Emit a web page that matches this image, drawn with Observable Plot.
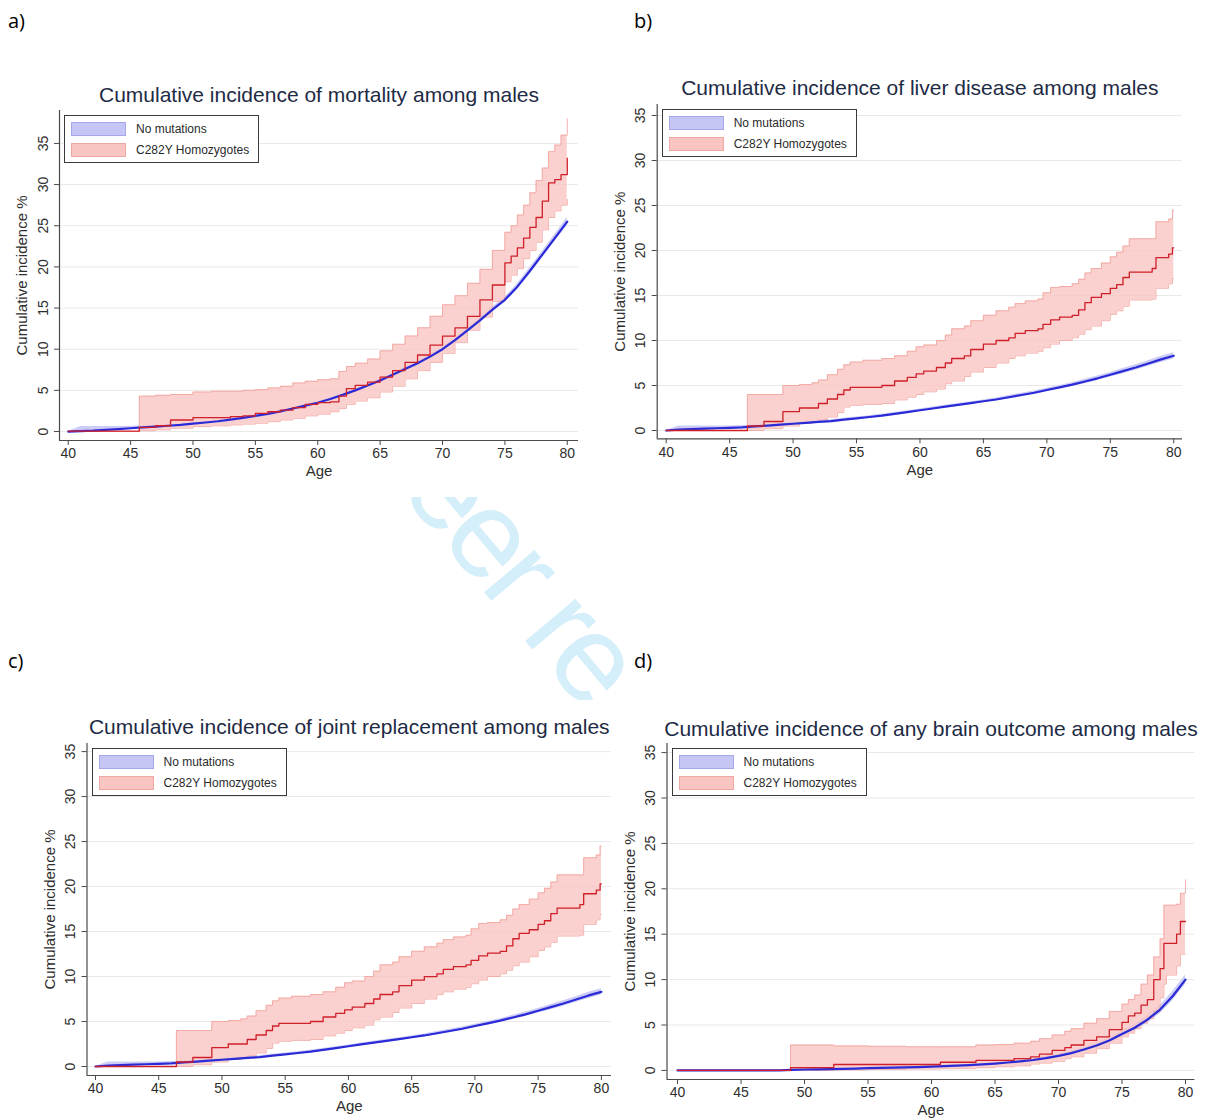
<!DOCTYPE html>
<html>
<head>
<meta charset="utf-8">
<script src="https://cdn.jsdelivr.net/npm/d3@7"></script>
<script src="https://cdn.jsdelivr.net/npm/@observablehq/plot@0.6"></script>
<style>
  html, body { margin: 0; padding: 0; background: #fff; }
  body { width: 1207px; height: 1118px; position: relative; overflow: hidden; font-family: 'Liberation Sans', Arial, sans-serif; }
  .panel { position: absolute; }
  .panel svg { overflow: visible; }
  .plabel { position: absolute; font-family: 'Open Sans', 'Liberation Sans', sans-serif; font-size: 20px; color: #000; line-height: 1; }
  .legend { position: absolute; box-sizing: border-box; width: 195px; height: 48px; border: 1px solid #3a3a3a; background: #fff; font-family: 'Liberation Sans', Arial, sans-serif; font-size: 12px; color: #2a2a2a; }
  .legend .sw { position: absolute; left: 6px; width: 55px; height: 14px; box-sizing: border-box; }
  .legend .lt { position: absolute; left: 71px; line-height: 14px; white-space: nowrap; }
  #wm { position: absolute; left: 0; top: 0; }
</style>
</head>
<body>
<script>
// ---------- shared axis values ----------
const xTickValues = [40, 45, 50, 55, 60, 65, 70, 75, 80];
const yTickValues = [0, 5, 10, 15, 20, 25, 30, 35];
const seriesNames = ["No mutations", "C282Y Homozygotes"];
const panelLetters = ["a)", "b)", "c)", "d)"];
const panelTitles = [
  "Cumulative incidence of mortality among males",
  "Cumulative incidence of liver disease among males",
  "Cumulative incidence of joint replacement among males",
  "Cumulative incidence of any brain outcome among males"
];
const yAxisTitle = "Cumulative incidence %";
const xAxisTitle = "Age";

// ages for the smooth "No mutations" curves
const noMutAge = [40,41,42,43,44,45,46,47,48,49,50,51,52,53,54,55,56,57,58,59,60,61,62,63,64,65,66,67,68,69,70,71,72,73,74,75,76,77,78,79,80];

// ---------- a) mortality ----------
const mortNoMutEst = [0,0.05,0.1,0.2,0.3,0.4,0.5,0.6,0.7,0.8,0.95,1.1,1.25,1.45,1.65,1.9,2.15,2.45,2.8,3.15,3.5,3.95,4.45,5.0,5.6,6.2,6.9,7.6,8.3,9.1,10.0,11.1,12.3,13.5,14.8,16.0,17.6,19.5,21.5,23.5,25.5];
const mortNoMutLo  = [0,0,0.02,0.1,0.2,0.3,0.4,0.5,0.6,0.7,0.85,1.0,1.15,1.35,1.55,1.8,2.05,2.35,2.7,3.0,3.35,3.8,4.3,4.85,5.4,6.0,6.7,7.4,8.1,8.85,9.75,10.85,12.0,13.2,14.5,15.7,17.25,19.1,21.1,23.05,25.0];
const mortNoMutHi  = [0,0.6,0.6,0.6,0.6,0.65,0.7,0.75,0.8,0.9,1.05,1.2,1.35,1.55,1.75,2.0,2.25,2.55,2.9,3.3,3.65,4.1,4.6,5.15,5.8,6.4,7.1,7.8,8.5,9.35,10.25,11.35,12.6,13.8,15.1,16.3,17.95,19.9,21.9,23.95,26.0];
const mortC282Age = [40,45.7,47.0,48.2,50.0,51.5,53.0,54.0,55.0,56.0,57.0,58.0,59.0,60.0,61.0,61.7,62.3,63.0,64.0,65.0,66.0,67.0,68.0,69.0,70.0,71.0,72.0,73.0,74.0,75.0,75.5,76.0,76.5,77.0,77.5,78.0,78.5,79.0,79.5,80.0];
const mortC282Est = [0.05,0.5,0.7,1.4,1.7,1.7,1.8,1.9,2.2,2.4,2.6,2.9,3.3,3.5,3.6,4.3,5.2,5.6,6.0,6.6,7.4,8.4,9.3,10.5,11.6,12.6,14.0,16.0,17.8,20.5,21.3,22.3,23.5,24.8,26.0,28.0,30.2,30.6,31.2,33.2];
const mortC282Lo  = [0,0.1,0.2,0.4,0.6,0.7,0.8,0.9,1.0,1.2,1.4,1.6,1.9,2.1,2.4,2.8,3.3,3.7,4.1,4.8,5.5,6.4,7.4,8.4,9.5,10.8,12.3,13.9,15.8,18.2,19.0,19.8,21.0,22.0,23.0,24.5,26.0,26.8,27.5,28.2];
const mortC282Hi  = [0,4.3,4.4,4.5,4.8,4.9,4.9,5.0,5.1,5.3,5.5,5.9,6.1,6.3,6.4,7.3,7.9,8.3,8.8,9.8,10.6,11.6,12.6,14.0,15.4,16.5,18.0,19.7,22.0,24.2,25.0,26.3,27.5,29.0,30.5,32.0,34.0,34.8,36.0,38.0];

// ---------- b) liver disease ----------
const liverNoMutEst = [0,0.1,0.15,0.2,0.25,0.3,0.35,0.45,0.55,0.65,0.75,0.85,0.95,1.05,1.2,1.35,1.5,1.65,1.85,2.05,2.25,2.45,2.65,2.85,3.05,3.25,3.45,3.7,3.95,4.2,4.5,4.8,5.1,5.45,5.8,6.2,6.6,7.0,7.45,7.9,8.3];
const liverNoMutLo  = [0,0,0.02,0.07,0.12,0.17,0.22,0.3,0.4,0.5,0.6,0.7,0.8,0.9,1.05,1.2,1.35,1.5,1.7,1.9,2.1,2.3,2.5,2.7,2.9,3.1,3.3,3.5,3.75,4.0,4.3,4.6,4.9,5.2,5.55,5.95,6.3,6.7,7.15,7.55,7.95];
const liverNoMutHi  = [0,0.5,0.5,0.5,0.5,0.5,0.55,0.6,0.7,0.8,0.9,1.0,1.1,1.2,1.35,1.5,1.65,1.8,2.0,2.2,2.4,2.6,2.8,3.0,3.2,3.4,3.6,3.9,4.15,4.4,4.7,5.0,5.3,5.7,6.05,6.45,6.9,7.3,7.75,8.25,8.65];
const liverC282Age = [40,46.4,47.7,49.2,50.5,51.5,52.0,52.7,53.5,54.0,54.5,55.5,57.0,58.0,59.0,59.7,60.3,61.3,62.0,62.5,63.5,64.0,65.0,66.0,67.0,67.5,68.3,69.3,69.7,70.3,71.0,72.0,72.5,73.0,73.5,74.3,75.0,75.5,76.0,76.5,78.3,78.6,79.6,79.9,80.0];
const liverC282Est = [0,0.5,1.0,2.1,2.5,2.5,3.0,3.5,4.0,4.5,4.8,4.8,5.0,5.5,5.9,6.3,6.6,7.0,7.5,8.0,8.3,9.0,9.6,10.0,10.3,10.8,11.1,11.3,11.8,12.3,12.6,12.8,13.4,14.2,14.8,15.2,15.8,16.2,17.0,17.6,18.0,19.2,19.6,20.3,20.3];
const liverC282Lo  = [0,0,0.2,0.5,0.8,1.0,1.2,1.5,2.0,2.6,2.8,2.9,3.0,3.4,3.7,4.0,4.3,4.6,5.2,5.5,6.0,6.5,7.0,7.5,8.0,8.3,8.6,8.8,9.2,9.6,10.0,10.3,10.7,11.2,11.6,12.2,12.9,13.3,13.8,14.5,14.6,15.8,16.3,16.9,16.9];
const liverC282Hi  = [0,4.0,4.0,5.0,5.1,5.3,5.6,6.2,6.8,7.3,7.6,7.8,8.0,8.3,8.8,9.3,9.5,10.0,10.6,11.3,11.6,12.2,12.8,13.3,13.7,14.1,14.4,14.6,15.3,15.9,16.0,16.3,16.8,17.5,18.0,18.6,19.3,19.8,20.5,21.3,21.3,23.2,23.5,24.5,24.5];

// ---------- c) joint replacement (as drawn in the source, identical to b) ----------
const jointNoMutEst = [0,0.1,0.15,0.2,0.25,0.3,0.35,0.45,0.55,0.65,0.75,0.85,0.95,1.05,1.2,1.35,1.5,1.65,1.85,2.05,2.25,2.45,2.65,2.85,3.05,3.25,3.45,3.7,3.95,4.2,4.5,4.8,5.1,5.45,5.8,6.2,6.6,7.0,7.45,7.9,8.3];
const jointNoMutLo  = [0,0,0.02,0.07,0.12,0.17,0.22,0.3,0.4,0.5,0.6,0.7,0.8,0.9,1.05,1.2,1.35,1.5,1.7,1.9,2.1,2.3,2.5,2.7,2.9,3.1,3.3,3.5,3.75,4.0,4.3,4.6,4.9,5.2,5.55,5.95,6.3,6.7,7.15,7.55,7.95];
const jointNoMutHi  = [0,0.5,0.5,0.5,0.5,0.5,0.55,0.6,0.7,0.8,0.9,1.0,1.1,1.2,1.35,1.5,1.65,1.8,2.0,2.2,2.4,2.6,2.8,3.0,3.2,3.4,3.6,3.9,4.15,4.4,4.7,5.0,5.3,5.7,6.05,6.45,6.9,7.3,7.75,8.25,8.65];
const jointC282Age = [40,46.4,47.7,49.2,50.5,51.5,52.0,52.7,53.5,54.0,54.5,55.5,57.0,58.0,59.0,59.7,60.3,61.3,62.0,62.5,63.5,64.0,65.0,66.0,67.0,67.5,68.3,69.3,69.7,70.3,71.0,72.0,72.5,73.0,73.5,74.3,75.0,75.5,76.0,76.5,78.3,78.6,79.6,79.9,80.0];
const jointC282Est = [0,0.5,1.0,2.1,2.5,2.5,3.0,3.5,4.0,4.5,4.8,4.8,5.0,5.5,5.9,6.3,6.6,7.0,7.5,8.0,8.3,9.0,9.6,10.0,10.3,10.8,11.1,11.3,11.8,12.3,12.6,12.8,13.4,14.2,14.8,15.2,15.8,16.2,17.0,17.6,18.0,19.2,19.6,20.3,20.3];
const jointC282Lo  = [0,0,0.2,0.5,0.8,1.0,1.2,1.5,2.0,2.6,2.8,2.9,3.0,3.4,3.7,4.0,4.3,4.6,5.2,5.5,6.0,6.5,7.0,7.5,8.0,8.3,8.6,8.8,9.2,9.6,10.0,10.3,10.7,11.2,11.6,12.2,12.9,13.3,13.8,14.5,14.6,15.8,16.3,16.9,16.9];
const jointC282Hi  = [0,4.0,4.0,5.0,5.1,5.3,5.6,6.2,6.8,7.3,7.6,7.8,8.0,8.3,8.8,9.3,9.5,10.0,10.6,11.3,11.6,12.2,12.8,13.3,13.7,14.1,14.4,14.6,15.3,15.9,16.0,16.3,16.8,17.5,18.0,18.6,19.3,19.8,20.5,21.3,21.3,23.2,23.5,24.5,24.5];

// ---------- d) any brain outcome ----------
const brainNoMutEst = [0,0,0,0,0,0,0,0,0,0.05,0.1,0.12,0.15,0.18,0.2,0.25,0.28,0.3,0.33,0.37,0.42,0.47,0.52,0.58,0.66,0.75,0.87,1.0,1.15,1.35,1.6,1.9,2.3,2.75,3.3,4.0,4.7,5.6,6.7,8.2,10.0];
const brainNoMutLo  = [0,0,0,0,0,0,0,0,0,0,0.03,0.05,0.08,0.1,0.12,0.16,0.19,0.21,0.24,0.28,0.32,0.37,0.42,0.47,0.55,0.63,0.74,0.86,1.0,1.18,1.42,1.7,2.08,2.5,3.02,3.7,4.35,5.2,6.25,7.7,9.5];
const brainNoMutHi  = [0,0,0,0,0,0,0,0,0,0.1,0.17,0.2,0.22,0.26,0.28,0.34,0.37,0.39,0.42,0.46,0.52,0.57,0.62,0.69,0.77,0.87,1.0,1.14,1.3,1.52,1.78,2.1,2.52,3.0,3.58,4.3,5.05,6.0,7.15,8.7,10.5];
const brainC282Age = [40,48.9,52.3,55.0,58.0,60.7,63.5,65.0,66.5,67.8,68.5,69.5,70.5,71.0,72.0,73.0,74.0,75.0,75.5,76.0,76.5,77.0,77.5,78.0,78.3,78.5,79.3,79.6,80.0];
const brainC282Est = [0,0.3,0.65,0.65,0.65,0.9,1.1,1.1,1.3,1.5,1.8,2.2,2.5,2.8,3.3,3.7,4.5,5.3,6.0,6.3,7.2,7.8,10.0,11.2,14.0,14.0,15.0,16.4,16.4];
const brainC282Lo  = [0,0,0.05,0.1,0.15,0.2,0.3,0.4,0.5,0.7,0.8,1.0,1.3,1.5,1.9,2.4,3.0,3.7,4.1,4.6,5.2,5.7,6.5,8.0,9.5,10.5,11.5,12.8,12.8];
const brainC282Hi  = [0,2.8,2.7,2.65,2.6,2.6,2.8,2.85,3.0,3.2,3.5,3.9,4.3,4.6,5.2,5.7,6.5,7.3,7.8,8.3,9.5,10.5,12.5,14.5,18.2,18.2,18.3,19.5,21.0];

// ---------- helpers to build row tables ----------
function rows(age, est, lo, hi) {
  return age.map((a, i) => ({ age: a, est: est[i], lo: lo[i], hi: hi[i] }));
}

const panels = [
  { noMut: rows(noMutAge, mortNoMutEst, mortNoMutLo, mortNoMutHi),
    c282: rows(mortC282Age, mortC282Est, mortC282Lo, mortC282Hi),
    left: 0, top: 60, width: 600, height: 430,
    mL: 59, mR: 22, mT: 50, mB: 50,
    xDom: [39.30, 80.90], yDom: [-1.09, 39.0], titleDy: -15,
    letter: [8, 11] },
  { noMut: rows(noMutAge, liverNoMutEst, liverNoMutLo, liverNoMutHi),
    c282: rows(liverC282Age, liverC282Est, liverC282Lo, liverC282Hi),
    left: 603, top: 55, width: 604, height: 430,
    mL: 53.7, mR: 25, mT: 49, mB: 46.7,
    xDom: [39.29, 80.69], yDom: [-0.92, 36.22], titleDy: -16,
    letter: [634, 11] },
  { noMut: rows(noMutAge, jointNoMutEst, jointNoMutLo, jointNoMutHi),
    c282: rows(jointC282Age, jointC282Est, jointC282Lo, jointC282Hi),
    left: 0, top: 700, width: 620, height: 418,
    mL: 86.5, mR: 9, mT: 43, mB: 43,
    xDom: [39.33, 80.80], yDom: [-1.0, 35.9], titleDy: -16,
    letter: [8, 651] },
  { noMut: rows(noMutAge, brainNoMutEst, brainNoMutLo, brainNoMutHi),
    c282: rows(brainC282Age, brainC282Est, brainC282Lo, brainC282Hi),
    left: 625, top: 700, width: 582, height: 418,
    mL: 41.5, mR: 12.6, mT: 43, mB: 39,
    xDom: [39.17, 80.74], yDom: [-1.0, 36.0], titleDy: -14,
    letter: [634, 651] }
];

const BLUE_BAND = "#c6c6f6", BLUE_LINE = "#2a2ad6";
const RED_BAND = "#f9c5c2", RED_EDGE = "#f1a19c", RED_LINE = "#cf1f2a";
const AXIS = "#4a4a4a", TEXT = "#2e2e2e", TITLE = "#1e2b45";
const FONT = "'Liberation Sans', Arial, sans-serif";

// ---------- watermark fragment (visible between the panels) ----------
(function () {
  const svg = d3.select("body").append("svg").attr("id", "wm")
    .attr("width", 1207).attr("height", 1118);
  svg.append("clipPath").attr("id", "wmclip").append("rect")
    .attr("x", 400).attr("y", 497).attr("width", 232).attr("height", 203);
  svg.append("g").attr("clip-path", "url(#wmclip)").append("text")
    .attr("transform", "translate(516,578) rotate(50)")
    .attr("text-anchor", "middle").attr("dy", "0.27em")
    .attr("font-family", "'Liberation Sans', Arial, sans-serif")
    .attr("font-size", 124).attr("letter-spacing", "-6px").attr("fill", "#d4eefa")
    .text("eer re");
})();

panels.forEach((p, i) => {
  const chart = Plot.plot({
    width: p.width, height: p.height,
    marginLeft: p.mL, marginRight: p.mR, marginTop: p.mT, marginBottom: p.mB,
    x: { domain: p.xDom },
    y: { domain: p.yDom },
    style: { fontFamily: FONT, color: TEXT, background: "transparent", overflow: "visible" },
    marks: [
      Plot.gridY(yTickValues, { stroke: "#e9e9e9", strokeOpacity: 1, strokeWidth: 1 }),
      Plot.areaY(p.noMut, { x: "age", y1: "lo", y2: "hi", fill: BLUE_BAND, fillOpacity: 0.9 }),
      Plot.areaY(p.c282, { x: "age", y1: "lo", y2: "hi", curve: "step-after", fill: RED_BAND, fillOpacity: 0.8 }),
      Plot.lineY(p.c282, { x: "age", y: "hi", curve: "step-after", stroke: RED_EDGE, strokeWidth: 0.8 }),
      Plot.lineY(p.c282, { x: "age", y: "lo", curve: "step-after", stroke: RED_EDGE, strokeWidth: 0.8 }),
      Plot.lineY(p.noMut, { x: "age", y: "est", stroke: BLUE_LINE, strokeWidth: 2.2 }),
      Plot.lineY(p.c282, { x: "age", y: "est", curve: "step-after", stroke: RED_LINE, strokeWidth: 1.3 }),
      Plot.ruleX([p.xDom[0]], { stroke: AXIS, strokeWidth: 1.2 }),
      Plot.ruleY([p.yDom[0]], { stroke: AXIS, strokeWidth: 1.2 }),
      Plot.axisY(yTickValues, { tickSize: 5, tickPadding: 7, tickRotate: -90, fontSize: 14, label: null, stroke: AXIS }),
      Plot.axisX(xTickValues, { tickSize: 5, tickPadding: 3, fontSize: 14, label: null, stroke: AXIS }),
      Plot.text([panelTitles[i]], { frameAnchor: "top", lineAnchor: "middle", textAnchor: "middle", dy: p.titleDy, fontSize: 21, fill: TITLE }),
      Plot.text([yAxisTitle], { frameAnchor: "left", lineAnchor: "middle", textAnchor: "middle", dx: -37, rotate: -90, fontSize: 15, fill: TEXT }),
      Plot.text([xAxisTitle], { frameAnchor: "bottom", lineAnchor: "middle", textAnchor: "middle", dy: 31, fontSize: 15, fill: TEXT })
    ]
  });
  const div = document.createElement("div");
  div.className = "panel";
  div.style.left = p.left + "px";
  div.style.top = p.top + "px";
  div.appendChild(chart);
  document.body.appendChild(div);

  // legend box (HTML), inside the plot region at top-left
  const lg = document.createElement("div");
  lg.className = "legend";
  lg.style.left = (p.left + p.mL + 5) + "px";
  lg.style.top = (p.top + p.mT + 5) + "px";
  const colors = [[BLUE_BAND, "#a6a6ea"], [RED_BAND, "#f0a7a2"]];
  seriesNames.forEach((name, k) => {
    const sw = document.createElement("div");
    sw.className = "sw";
    sw.style.top = (6 + k * 21) + "px";
    sw.style.background = colors[k][0];
    sw.style.border = "1px solid " + colors[k][1];
    const t = document.createElement("div");
    t.className = "lt";
    t.style.top = (6 + k * 21) + "px";
    t.textContent = name;
    lg.appendChild(sw); lg.appendChild(t);
  });
  document.body.appendChild(lg);

  const lab = document.createElement("div");
  lab.className = "plabel";
  lab.style.left = p.letter[0] + "px";
  lab.style.top = p.letter[1] + "px";
  lab.textContent = panelLetters[i];
  document.body.appendChild(lab);
});
</script>
</body>
</html>
